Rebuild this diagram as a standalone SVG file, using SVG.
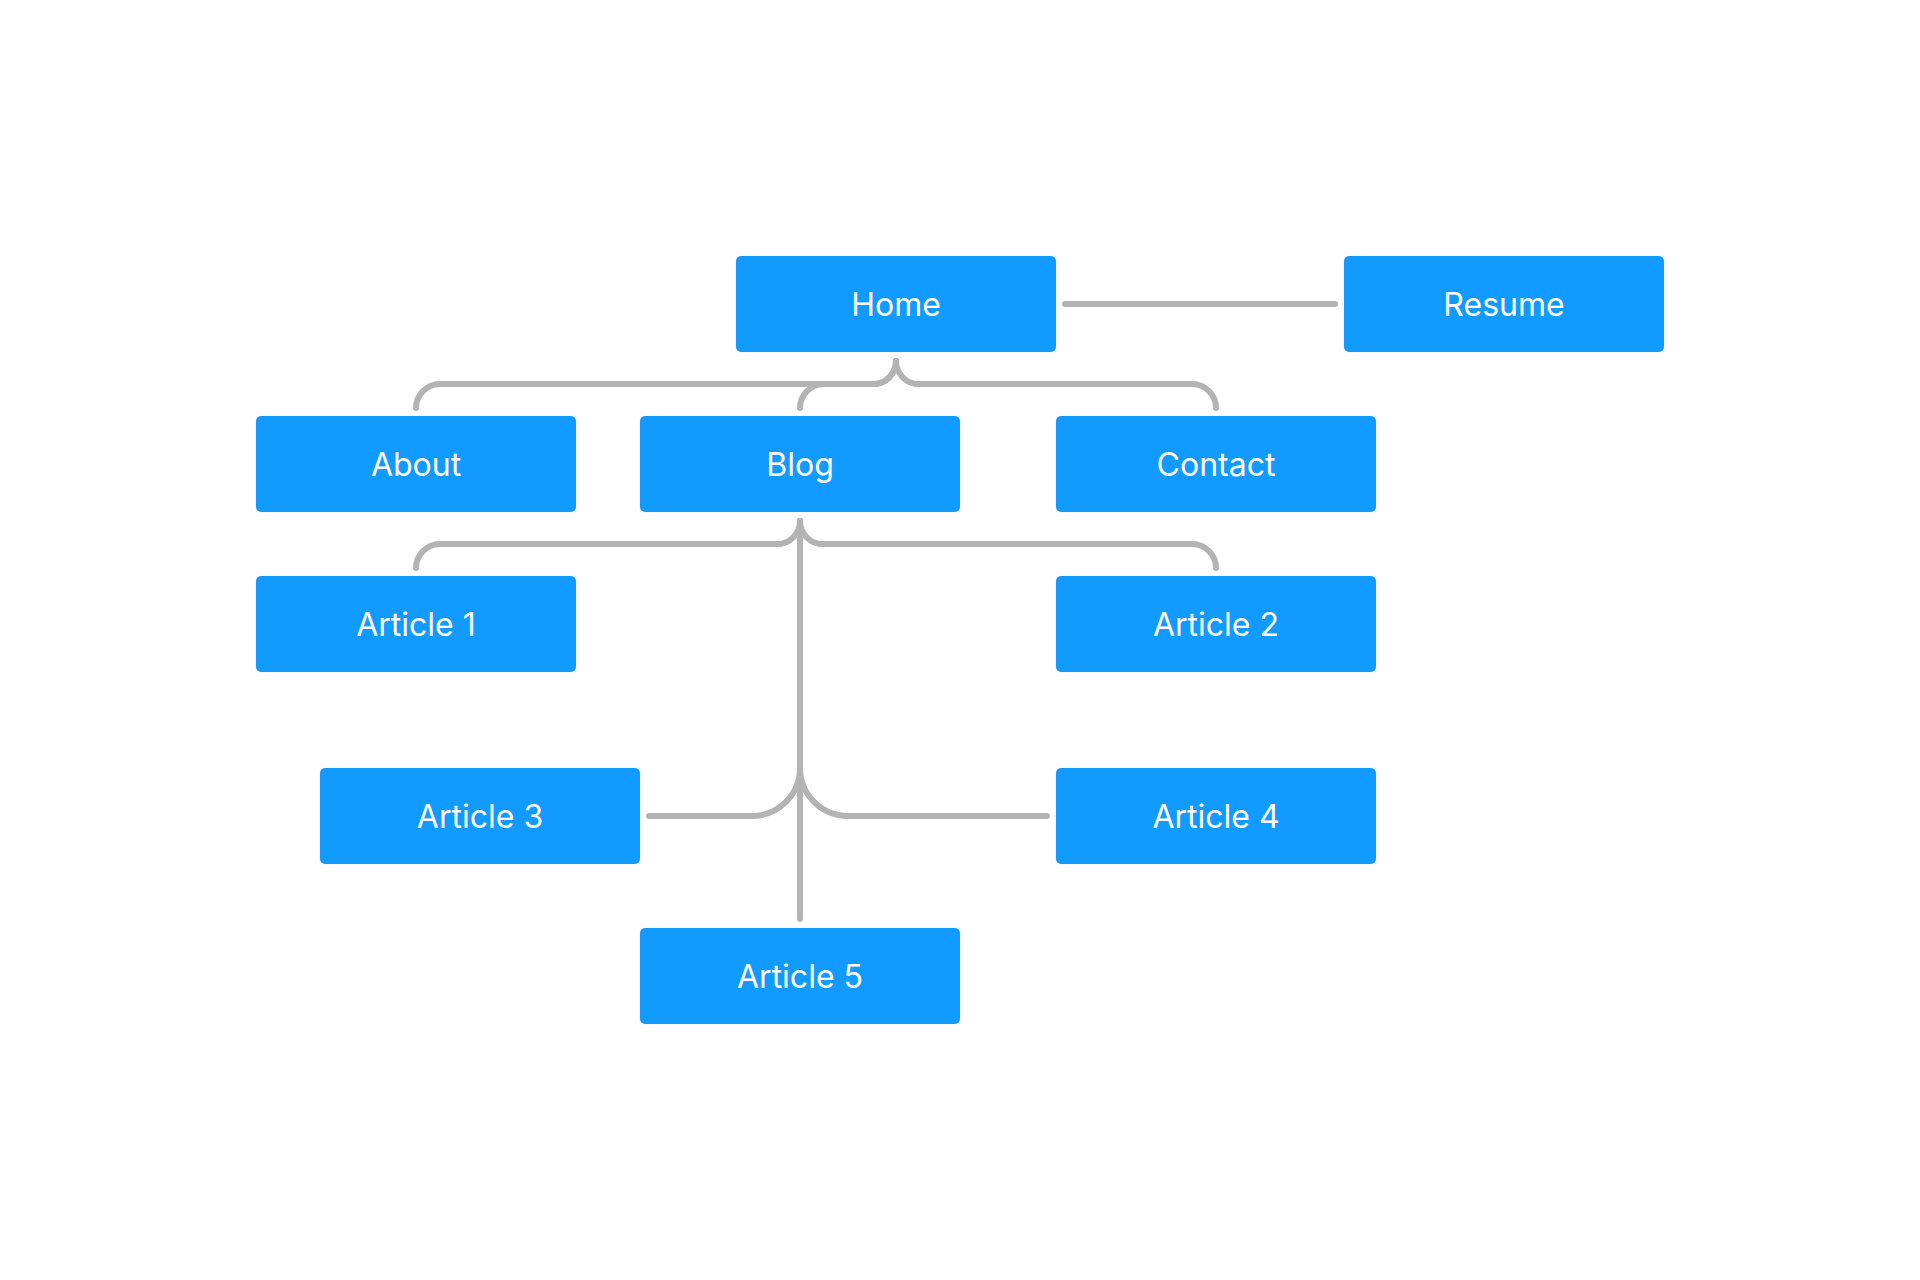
<svg xmlns="http://www.w3.org/2000/svg" width="1920" height="1280" viewBox="0 0 1920 1280">
<style>
.node rect { fill: #119AFF; }
.node text { fill: #FFFFFF; font-family: Inter, "Liberation Sans", sans-serif; font-size: 32px; text-anchor: middle; }
.edge { fill: none; stroke: #B3B3B3; stroke-width: 6; stroke-linecap: round; stroke-linejoin: round; }
</style>
<rect width="1920" height="1280" fill="#FFFFFF"/>
<g id="connectors">
  <path class="edge" d="M 1065 304 L 1335 304"/>
  <path class="edge" d="M 896 361 A 23 23 0 0 1 873 384 L 440 384 A 24 24 0 0 0 416 408"/>
  <path class="edge" d="M 896 361 A 23 23 0 0 1 873 384 L 824 384 A 24 24 0 0 0 800 408"/>
  <path class="edge" d="M 896 361 A 23 23 0 0 0 919 384 L 1192 384 A 24 24 0 0 1 1216 408"/>
  <path class="edge" d="M 800 521 A 23 23 0 0 1 777 544 L 440 544 A 24 24 0 0 0 416 568"/>
  <path class="edge" d="M 800 521 A 23 23 0 0 0 823 544 L 1192 544 A 24 24 0 0 1 1216 568"/>
  <path class="edge" d="M 800 521 L 800 768 A 48 48 0 0 1 752 816 L 649 816"/>
  <path class="edge" d="M 800 521 L 800 768 A 48 48 0 0 0 848 816 L 1047 816"/>
  <path class="edge" d="M 800 521 L 800 919"/>
</g>
<g id="home" class="node"><rect x="736" y="256" width="320" height="96" rx="5"/><text x="896" y="315.5">Home</text></g>
<g id="resume" class="node"><rect x="1344" y="256" width="320" height="96" rx="5"/><text x="1504" y="315.5">Resume</text></g>
<g id="about" class="node"><rect x="256" y="416" width="320" height="96" rx="5"/><text x="416" y="475.5">About</text></g>
<g id="blog" class="node"><rect x="640" y="416" width="320" height="96" rx="5"/><text x="800" y="475.5">Blog</text></g>
<g id="contact" class="node"><rect x="1056" y="416" width="320" height="96" rx="5"/><text x="1216" y="475.5">Contact</text></g>
<g id="article1" class="node"><rect x="256" y="576" width="320" height="96" rx="5"/><text x="416" y="635.5">Article 1</text></g>
<g id="article2" class="node"><rect x="1056" y="576" width="320" height="96" rx="5"/><text x="1216" y="635.5">Article 2</text></g>
<g id="article3" class="node"><rect x="320" y="768" width="320" height="96" rx="5"/><text x="480" y="827.5">Article 3</text></g>
<g id="article4" class="node"><rect x="1056" y="768" width="320" height="96" rx="5"/><text x="1216" y="827.5">Article 4</text></g>
<g id="article5" class="node"><rect x="640" y="928" width="320" height="96" rx="5"/><text x="800" y="987.5">Article 5</text></g>
</svg>
